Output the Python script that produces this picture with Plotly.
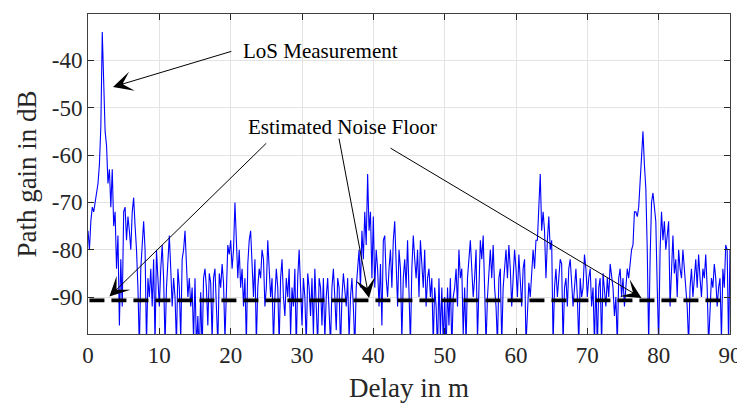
import plotly.graph_objects as go

# Delay axis (m), 0.2 m resolution
delay_step = 0.2
path_gain_db = [
    -76, -80, -74, -71, -72, -70, -69, -66, -62, -54,
    -34, -44, -55, -58, -66, -63, -71, -63, -75, -72,
    -84, -77, -96, -82, -92, -72, -71, -78, -73, -76,
    -80, -72, -69, -75, -80, -88, -101, -84, -78, -74,
    -80, -100, -86, -90, -84, -92, -82, -100, -80, -86,
    -92, -84, -79, -86, -100, -88, -82, -77, -84, -92,
    -86, -90, -100, -84, -88, -99, -82, -80, -76, -84,
    -90, -86, -92, -88, -99, -86, -101, -94, -103, -89,
    -102, -86, -84, -88, -96, -85, -87, -99, -86, -84,
    -92, -100, -85, -88, -83, -87, -99, -86, -79, -81,
    -78, -84, -80, -70, -80, -86, -80, -88, -84, -92,
    -86, -100, -83, -78, -76, -84, -90, -82, -100, -88,
    -84, -86, -80, -82, -92, -88, -78, -84, -90, -86,
    -100, -90, -84, -88, -100, -86, -82, -90, -94, -86,
    -90, -84, -98, -88, -92, -84, -101, -86, -80, -88,
    -96, -86, -90, -100, -85, -88, -94, -86, -98, -84,
    -90, -100, -86, -88, -96, -86, -99, -90, -86, -92,
    -100, -88, -84, -90, -97, -86, -88, -101, -90, -85,
    -88, -92, -86, -99, -90, -86, -92, -101, -88, -84,
    -80, -88, -76, -82, -72, -79, -64, -76, -72, -86,
    -73, -88, -80, -84, -92, -83, -96, -78, -77, -86,
    -90, -84, -80, -88, -78, -74, -86, -92, -80, -84,
    -99, -86, -82, -88, -78, -90, -100, -84, -77, -82,
    -86, -80, -90, -78, -84, -88, -80, -92, -86, -84,
    -90, -86, -100, -88, -92, -101, -86, -98, -88, -100,
    -90, -102, -88, -96, -86, -101, -90, -88, -84, -92,
    -80, -86, -84, -98, -88, -100, -86, -82, -78, -84,
    -90, -86, -80, -99, -86, -78, -82, -77, -88, -100,
    -90, -84, -80, -86, -79, -88, -92, -100, -86, -84,
    -100, -88, -84, -80, -86, -79, -84, -92, -86, -80,
    -84, -90, -81, -86, -92, -84, -82, -100, -94, -87,
    -90, -86, -80, -84, -78, -78, -72, -64, -76, -72,
    -76, -86, -78, -73, -80, -78, -100, -88, -84, -90,
    -86, -82, -83, -100, -88, -86, -92, -84, -82, -86,
    -92, -88, -84, -90, -100, -86, -90, -88, -81, -84,
    -90, -86, -84, -92, -88, -100, -86, -101, -88, -86,
    -100, -85, -88, -92, -86, -90, -83, -86, -88, -94,
    -90, -100, -86, -84, -90, -86, -92, -88, -84, -86,
    -83, -80, -79, -72, -72, -73, -71, -66, -60, -55,
    -62, -67, -80, -100, -82, -70, -68, -72, -74, -88,
    -100, -80, -72, -78, -74, -80, -76, -74, -92, -84,
    -77, -85, -82, -90, -80, -84, -86, -80, -84, -88,
    -92, -100, -88, -84, -90, -86, -82, -88, -81, -86,
    -90, -84, -86, -81, -88, -100, -92, -86, -88, -83,
    -86, -92, -88, -86, -99, -84, -88, -79, -80, -100,
    -80,
]
delay_m = [round(i * delay_step, 1) for i in range(len(path_gain_db))]

noise_floor_db = -90.7
noise_x = [0.2, 89.4]

x_ticks = [0, 10, 20, 30, 40, 50, 60, 70, 80, 90]
x_tick_text = ["0", "10", "20", "30", "40", "50", "60", "70", "80", "90"]
y_ticks = [-90, -80, -70, -60, -50, -40]
y_tick_text = ["-90", "-80", "-70", "-60", "-50", "-40"]

FONT = "Liberation Serif"
TXT = "#262626"

fig = go.Figure()
fig.add_trace(go.Scatter(
    x=delay_m, y=path_gain_db, mode="lines",
    line=dict(color="#0000ff", width=1.1), showlegend=False,
))
fig.add_trace(go.Scatter(
    x=noise_x, y=[noise_floor_db, noise_floor_db], mode="lines",
    line=dict(color="black", width=3.8, dash="15px,7px"), showlegend=False,
))

# text labels
fig.add_annotation(x=32.6, y=-38.0, xref="x", yref="y", text="LoS Measurement",
                   showarrow=False, font=dict(family=FONT, size=21, color="black"))
fig.add_annotation(x=35.7, y=-54.1, xref="x", yref="y", text="Estimated Noise Floor",
                   showarrow=False, font=dict(family=FONT, size=21, color="black"))

arrows = [
    # (head_x, head_y, tail_x, tail_y)
    (3.5, -45.6, 20.3, -38.0),
    (3.0, -89.9, 25.2, -57.2),
    (39.4, -90.2, 35.15, -56.2),
    (77.6, -90.2, 42.2, -58.35),
]
for hx, hy, tx, ty in arrows:
    fig.add_annotation(x=hx, y=hy, ax=tx, ay=ty, xref="x", yref="y",
                       axref="x", ayref="y", text="", showarrow=True,
                       arrowhead=3, arrowsize=3.3, arrowwidth=1.0,
                       arrowcolor="black", standoff=0)

axis_common = dict(
    showgrid=True, gridcolor="#e3e3e3", gridwidth=1,
    showline=True, linecolor="#404040", linewidth=1, mirror="ticks",
    ticks="inside", ticklen=6, tickcolor="#262626",
    tickfont=dict(family=FONT, size=23, color=TXT),
    zeroline=False, automargin=False,
)
fig.update_xaxes(range=[0, 90], tickvals=x_ticks, ticktext=x_tick_text, **axis_common,
                 title=dict(text="Delay in m", font=dict(family=FONT, size=27, color=TXT),
                            standoff=11))
fig.update_yaxes(range=[-97.8, -30.2], tickvals=y_ticks, ticktext=y_tick_text, **axis_common,
                 title=dict(text="Path gain in dB", font=dict(family=FONT, size=27, color=TXT),
                            standoff=7))

# the page body adds an 8 px offset; size the figure so the plot area lands where the reference has it
fig.update_layout(
    width=737, height=397,
    margin=dict(l=80, r=15, t=6, b=71),
    plot_bgcolor="white", paper_bgcolor="white",
)

fig.write_html("out.html")
